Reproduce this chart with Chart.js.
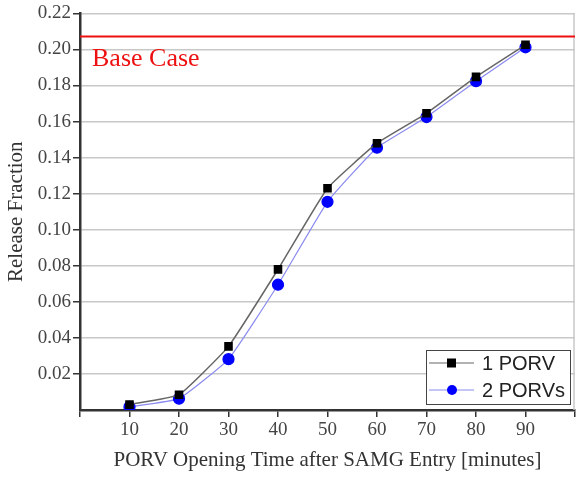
<!DOCTYPE html>
<html>
<head>
<meta charset="utf-8">
<script src="https://cdn.jsdelivr.net/npm/chart.js@4/dist/chart.umd.min.js"></script>
<style>
  html, body { margin: 0; padding: 0; background: #fff; }
  #wrap { width: 577px; height: 477px; }
</style>
</head>
<body>
<div id="wrap"><canvas id="chart"></canvas></div>
<script>
// Data
const openingTimes = [10, 20, 30, 40, 50, 60, 70, 80, 90];
const onePorv = [0.003, 0.0085, 0.0353, 0.078, 0.123, 0.148, 0.1646, 0.1848, 0.2026];
const twoPorvs = [0.0017, 0.0063, 0.0282, 0.0695, 0.1155, 0.1455, 0.1625, 0.1824, 0.2012];
const baseCase = 0.2072;
const yTicks = [0.02, 0.04, 0.06, 0.08, 0.10, 0.12, 0.14, 0.16, 0.18, 0.20, 0.22];

const serif = '"Liberation Serif", "DejaVu Serif", serif';
const sans = '"Liberation Sans", Arial, sans-serif';

// Frame, base case line and the boxed legend
const extras = {
    id: 'extras',
    beforeDatasetsDraw(chart) {
        const { ctx, chartArea: a, scales } = chart;
        ctx.save();
        // right border
        ctx.strokeStyle = '#c8c8c8';
        ctx.lineWidth = 1.5;
        ctx.beginPath();
        ctx.moveTo(a.right - 1, a.top);
        ctx.lineTo(a.right - 1, a.bottom);
        ctx.stroke();
        // base case
        const yb = scales.y.getPixelForValue(baseCase);
        ctx.strokeStyle = '#ee1111';
        ctx.lineWidth = 2;
        ctx.beginPath();
        ctx.moveTo(a.left, yb);
        ctx.lineTo(a.right, yb);
        ctx.stroke();
        ctx.fillStyle = '#ee1111';
        ctx.font = '26px ' + serif;
        ctx.textBaseline = 'alphabetic';
        ctx.fillText('Base Case', 92, yb + 30);
        ctx.restore();
    },
    afterDraw(chart) {
        const { ctx } = chart;
        const x0 = 426, y0 = 350, w = 144, h = 54;
        ctx.save();
        ctx.fillStyle = '#fff';
        ctx.fillRect(x0, y0, w, h);
        ctx.strokeStyle = '#444';
        ctx.lineWidth = 1;
        ctx.strokeRect(x0 + 0.5, y0 + 0.5, w, h);
        ctx.font = '20px ' + sans;
        ctx.textBaseline = 'middle';
        chart.data.datasets.forEach((ds, i) => {
            const cy = y0 + 13 + i * 27;
            ctx.strokeStyle = ds.borderColor;
            ctx.lineWidth = 1.2;
            ctx.beginPath();
            ctx.moveTo(x0 + 3, cy);
            ctx.lineTo(x0 + 48, cy);
            ctx.stroke();
            ctx.fillStyle = ds.pointBackgroundColor;
            if (ds.pointStyle === 'rect') {
                ctx.fillRect(x0 + 21, cy - 4.5, 9, 9);
            } else {
                ctx.beginPath();
                ctx.arc(x0 + 26, cy, 5, 0, Math.PI * 2);
                ctx.fill();
            }
            ctx.fillStyle = '#222';
            ctx.fillText(ds.label, x0 + 56, cy + 1);
        });
        ctx.restore();
    }
};

new Chart(document.getElementById('chart'), {
    type: 'line',
    data: {
        datasets: [
            {
                label: '1 PORV',
                data: openingTimes.map((t, i) => ({ x: t, y: onePorv[i] })),
                borderColor: '#666666',
                borderWidth: 1.5,
                pointStyle: 'rect',
                pointRadius: 5,
                pointBackgroundColor: '#000',
                pointBorderColor: '#000',
                tension: 0.12
            },
            {
                label: '2 PORVs',
                data: openingTimes.map((t, i) => ({ x: t, y: twoPorvs[i] })),
                borderColor: '#8a8af0',
                borderWidth: 1.2,
                pointStyle: 'circle',
                pointRadius: 5.5,
                pointBackgroundColor: '#0000ff',
                pointBorderColor: '#0000ff',
                tension: 0.12
            }
        ]
    },
    options: {
        responsive: true,
        maintainAspectRatio: false,
        animation: false,
        layout: { autoPadding: false, padding: { top: 9, right: 0, left: 0, bottom: 0 } },
        plugins: {
            legend: { display: false },
            tooltip: { enabled: false }
        },
        scales: {
            x: {
                type: 'linear',
                min: 0,
                max: 100,
                afterBuildTicks: (s) => { s.ticks = [0, 10, 20, 30, 40, 50, 60, 70, 80, 90, 100].map(v => ({ value: v })); },
                afterFit: (s) => { s.height = 67; },
                border: { color: '#333', width: 2.5 },
                grid: { drawOnChartArea: false, tickColor: '#333', tickLength: 7, lineWidth: 1.5 },
                ticks: {
                    color: '#444',
                    font: { family: serif, size: 19 },
                    padding: 2,
                    maxRotation: 0,
                    callback: (v) => (v === 0 || v === 100) ? '' : v
                },
                title: {
                    display: true,
                    text: 'PORV Opening Time after SAMG Entry [minutes]',
                    color: '#333',
                    font: { family: serif, size: 21 },
                    padding: { top: 4 }
                }
            },
            y: {
                min: 0,
                max: 0.22,
                afterBuildTicks: (s) => { s.ticks = yTicks.map(v => ({ value: v })); },
                afterFit: (s) => { s.width = 80; },
                border: { color: '#333', width: 2.5 },
                grid: { color: '#c8c8c8', lineWidth: 1.5, tickColor: '#333', tickLength: 7 },
                ticks: {
                    color: '#444',
                    font: { family: serif, size: 19 },
                    padding: 2,
                    callback: (v) => v.toFixed(2)
                },
                title: {
                    display: true,
                    text: 'Release Fraction',
                    color: '#333',
                    font: { family: serif, size: 21 },
                    padding: { bottom: 2 }
                }
            }
        }
    },
    plugins: [extras]
});
</script>
</body>
</html>
